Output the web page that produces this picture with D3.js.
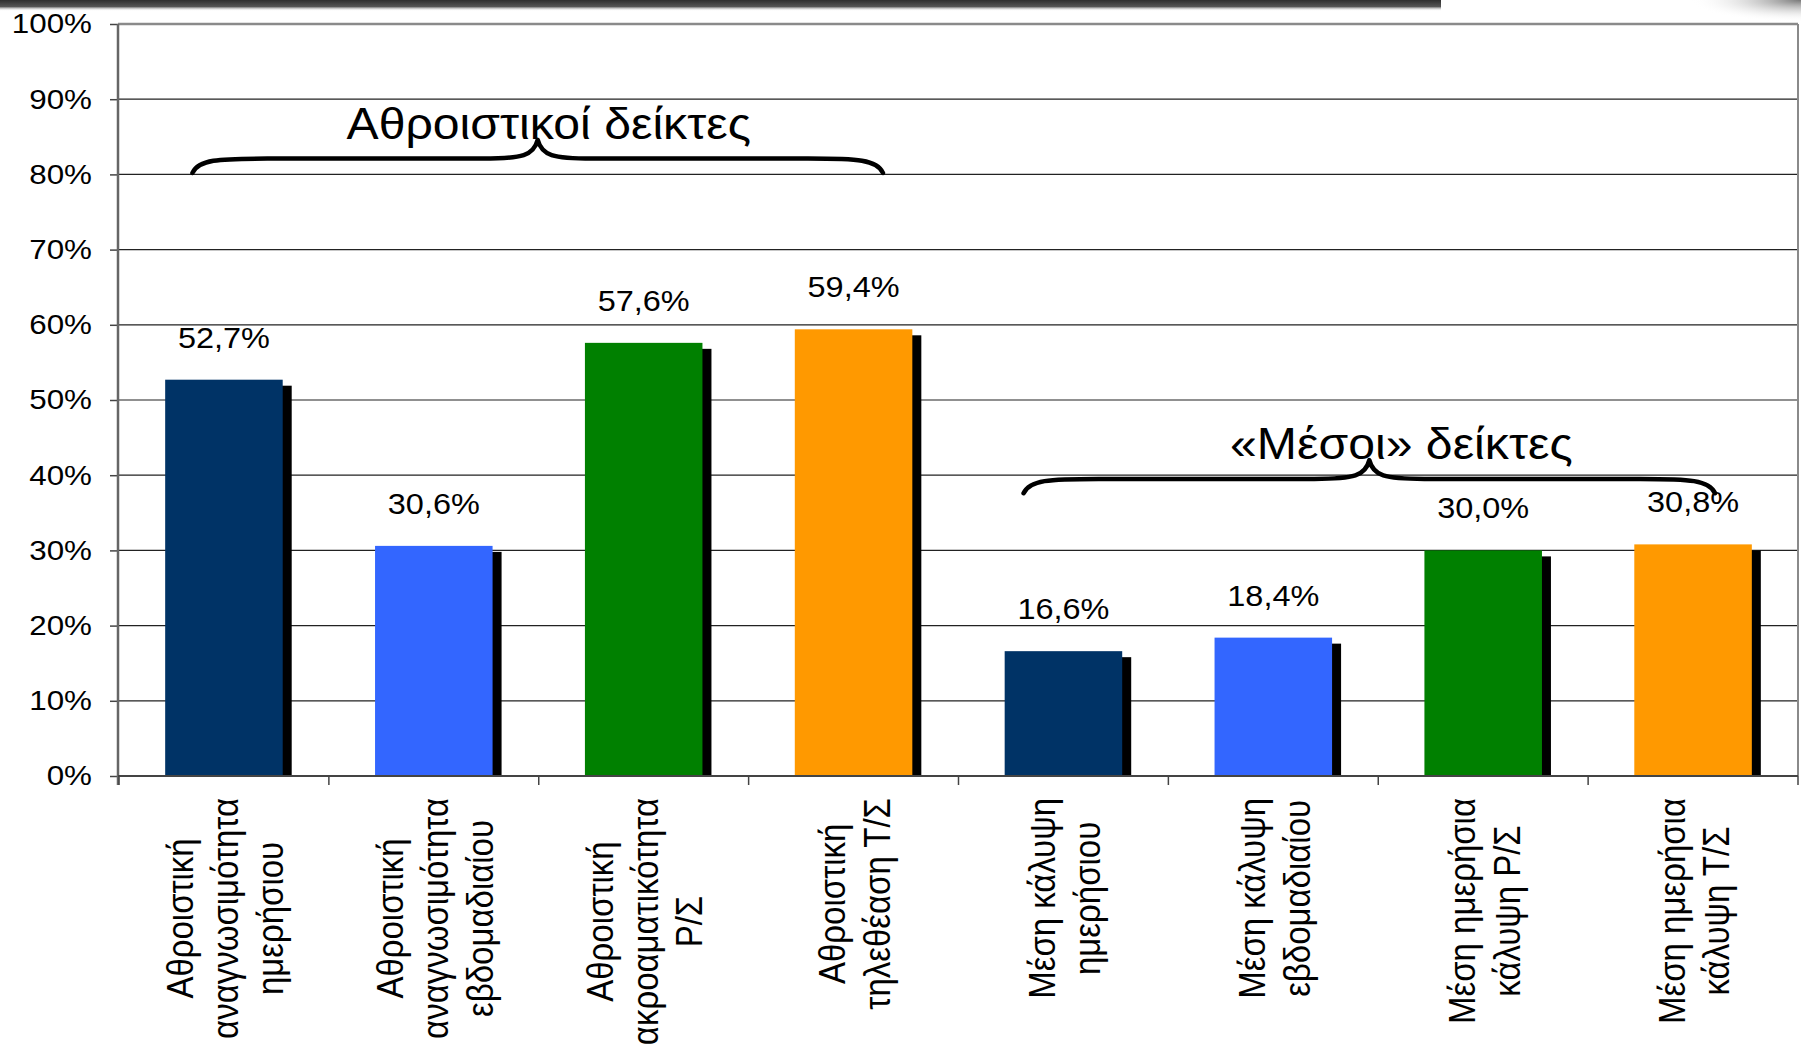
<!DOCTYPE html>
<html><head><meta charset="utf-8">
<script src="https://cdn.jsdelivr.net/npm/d3@7"></script>
<style>
html,body{margin:0;padding:0;background:#fff;overflow:hidden}
svg{display:block;font-family:"Liberation Sans",Arial,sans-serif}
</style></head><body>
<svg id="chart" width="1801" height="1044"></svg>
<script>
// ---- data ----
const categories = [
  "Αθροιστική\nαναγνωσιμότητα\nημερήσιου",
  "Αθροιστική\nαναγνωσιμότητα\nεβδομαδιαίου",
  "Αθροιστική\nακροαματικότητα\nΡ/Σ",
  "Αθροιστική\nτηλεθέαση Τ/Σ",
  "Μέση κάλυψη\nημερήσιου",
  "Μέση κάλυψη\nεβδομαδιαίου",
  "Μέση ημερήσια\nκάλυψη Ρ/Σ",
  "Μέση ημερήσια\nκάλυψη Τ/Σ"
];
const values = [52.7, 30.6, 57.6, 59.4, 16.6, 18.4, 30.0, 30.8];
const barColors = ["#003366", "#3366FF", "#008000", "#FF9900", "#003366", "#3366FF", "#008000", "#FF9900"];
const yTickValues = [0, 10, 20, 30, 40, 50, 60, 70, 80, 90, 100];
const groupLabels = ["Αθροιστικοί δείκτες", "«Μέσοι» δείκτες"];
const groupFirst = [0, 4];
const groupLast = [3, 7];
const groupLevel = [80.2, 37.6];

// ---- layout ----
const pL = 118, pR = 1798, pT = 24, pB = 776;
const SX = 1.12; // horizontal text stretch seen in the reference
const svg = d3.select("#chart");
const grLocale = d3.formatLocale({decimal: ",", thousands: ".", grouping: [3], currency: ["", "€"]});
const fmt = grLocale.format(".1f");

const x = d3.scaleBand().domain(d3.range(categories.length)).range([pL + 1, pR])
  .paddingInner(0.44).paddingOuter(0.22);
const y = d3.scaleLinear().domain([0, 100]).range([pB, pT]);

// top decoration bar
const defs = svg.append("defs");
const lg = defs.append("linearGradient").attr("id", "topbar").attr("x1", 0).attr("y1", 0).attr("x2", 0).attr("y2", 1);
lg.append("stop").attr("offset", "0%").attr("stop-color", "#2e2e2e");
lg.append("stop").attr("offset", "60%").attr("stop-color", "#555");
lg.append("stop").attr("offset", "100%").attr("stop-color", "#fff").attr("stop-opacity", 0);
svg.append("rect").attr("x", 0).attr("y", 0).attr("width", 1441).attr("height", 11).attr("fill", "url(#topbar)");
const rg = defs.append("radialGradient").attr("id", "corner").attr("cx", 1).attr("cy", 0).attr("r", 1);
rg.append("stop").attr("offset", "0%").attr("stop-color", "#777");
rg.append("stop").attr("offset", "100%").attr("stop-color", "#fff").attr("stop-opacity", 0);
svg.append("rect").attr("x", 1690).attr("y", 0).attr("width", 111).attr("height", 22).attr("fill", "url(#corner)");

// gridlines
svg.append("g").selectAll("line").data(yTickValues.filter(d => d > 0 && d < 100)).join("line")
  .attr("x1", pL).attr("x2", pR).attr("y1", d => y(d)).attr("y2", d => y(d))
  .attr("stroke", "#222").attr("stroke-width", 1.2);

// plot border (top + right)
svg.append("line").attr("x1", pL).attr("x2", pR).attr("y1", y(100)).attr("y2", y(100))
  .attr("stroke", "#8a8a8a").attr("stroke-width", 2.5);
svg.append("line").attr("x1", pR).attr("x2", pR).attr("y1", y(100)).attr("y2", pB)
  .attr("stroke", "#8a8a8a").attr("stroke-width", 2);

// bar shadows
svg.append("g").selectAll("rect").data(values).join("rect")
  .attr("x", (d, i) => x(i) + 9).attr("y", d => y(d) + 6)
  .attr("width", x.bandwidth()).attr("height", d => pB - y(d) - 6)
  .attr("fill", "#000");
// bars
svg.append("g").selectAll("rect").data(values).join("rect")
  .attr("x", (d, i) => x(i)).attr("y", d => y(d))
  .attr("width", x.bandwidth()).attr("height", d => pB - y(d))
  .attr("fill", (d, i) => barColors[i]);

// y axis
const gy = svg.append("g").attr("transform", `translate(${pL},0)`)
  .call(d3.axisLeft(y).tickValues(yTickValues).tickFormat(d => d + "%").tickSize(8).tickPadding(18));
gy.attr("font-size", null).attr("font-family", null);
gy.select(".domain").remove();
gy.selectAll(".tick line").attr("stroke", "#444").attr("stroke-width", 1.5);
gy.selectAll(".tick text").attr("font-size", 28).attr("fill", "#000").each(function() {
  const t = d3.select(this); const xx = +t.attr("x");
  t.attr("x", 0).attr("transform", `translate(${xx},0) scale(${SX},1)`);
});
svg.append("line").attr("x1", pL).attr("x2", pL).attr("y1", y(100)).attr("y2", pB + 9)
  .attr("stroke", "#666").attr("stroke-width", 2.5);

// x axis
svg.append("line").attr("x1", pL).attr("x2", pR).attr("y1", pB).attr("y2", pB)
  .attr("stroke", "#444").attr("stroke-width", 2);
const bounds = d3.range(categories.length + 1).map(i => i < categories.length
  ? x(i) + x.bandwidth() / 2 - x.step() / 2 : pR);
svg.append("g").selectAll("line").data(bounds).join("line")
  .attr("x1", d => d).attr("x2", d => d).attr("y1", pB).attr("y2", pB + 9)
  .attr("stroke", "#444").attr("stroke-width", 1.5);

// category labels (rotated, multi-line, centered lines, anchored near axis)
const lineH = 40, labFs = 33;
categories.forEach((c, i) => {
  const lines = c.split("\n");
  const cx = x(i) + x.bandwidth() / 2 + 1;
  const g = svg.append("g").attr("transform", `translate(${cx},${pB + 22}) scale(${SX},1) rotate(-90)`);
  const texts = lines.map((l, j) => g.append("text").attr("font-size", labFs).attr("fill", "#000")
    .attr("y", (j - (lines.length - 1) / 2) * lineH).attr("dy", "0.35em")
    .attr("text-anchor", "middle").text(l));
  const wmax = d3.max(texts, t => t.node().getComputedTextLength());
  texts.forEach(t => t.attr("x", -wmax / 2));
});

// value labels
svg.append("g").selectAll("text").data(values).join("text")
  .attr("transform", (d, i) => `translate(${x(i) + x.bandwidth() / 2},${y(d) - 32}) scale(${SX},1)`)
  .attr("text-anchor", "middle").attr("font-size", 29).attr("fill", "#000")
  .text(d => fmt(d) + "%");

// group braces
const endOff = [[-0.15, 0.14], [-0.19, 0.105]];
const textOff = [11, 32];
groupLabels.forEach((lab, k) => {
  const xl = x(groupFirst[k]) + x.bandwidth() / 2 + endOff[k][0] * x.step();
  const xr = x(groupLast[k]) + x.bandwidth() / 2 + endOff[k][1] * x.step();
  const xm = (xl + xr) / 2;
  const yE = y(groupLevel[k]), yH = y(groupLevel[k] + 1.9), yT = y(groupLevel[k] + 4.4);
  const p = d3.path();
  p.moveTo(xl, yE);
  p.bezierCurveTo(xl + 6, yH + 1, xl + 25, yH, xl + 75, yH);
  p.lineTo(xm - 55, yH);
  p.bezierCurveTo(xm - 15, yH, xm - 4, yH - 3, xm, yT);
  p.bezierCurveTo(xm + 4, yH - 3, xm + 15, yH, xm + 55, yH);
  p.lineTo(xr - 75, yH);
  p.bezierCurveTo(xr - 25, yH, xr - 6, yH + 1, xr, yE);
  svg.append("path").attr("d", p.toString()).attr("fill", "none").attr("stroke", "#000")
    .attr("stroke-width", 4.5).attr("stroke-linecap", "round").attr("stroke-linejoin", "round");
  svg.append("text").attr("transform", `translate(${xm + textOff[k]},${y(groupLevel[k] + 4.5)}) scale(1.095,1)`)
    .attr("text-anchor", "middle").attr("font-size", 44).attr("fill", "#000").text(lab);
});
</script>
</body></html>
